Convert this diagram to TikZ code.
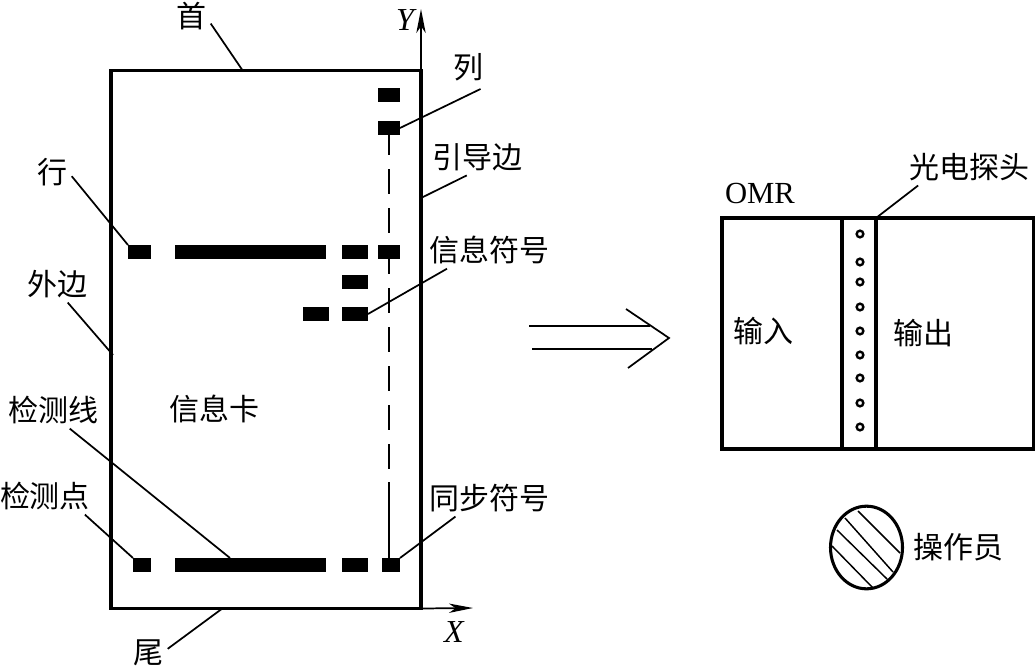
\documentclass[tikz,border=0pt]{standalone}
\usepackage{fontspec}
\setmainfont{Liberation Serif}
\newfontfamily\cjk{Noto Sans CJK SC}
\usepackage{xcolor}
\usetikzlibrary{arrows.meta, positioning, shapes.geometric}

\tikzset{
  cjklabel/.style={font=\cjk\fontsize{22.5}{24}\selectfont},
  blk/.style={fill=black,inner sep=0pt,outer sep=0pt,minimum height=10.5pt},
  leader/.style={line width=1.3pt},
  heavy/.style={draw,line width=2.3pt,inner sep=0pt,outer sep=0pt},
  probe/.style={draw,circle,line width=1.8pt,inner sep=0pt,minimum size=5pt},
  axis/.style={-{Stealth[length=18pt,width=7pt,inset=5pt]},line width=1.3pt},
}

\begin{document}
\begin{tikzpicture}[x=0.75pt,y=-0.75pt,>=Stealth]
  \useasboundingbox (0,0) rectangle (1035,667);
  % card
  \node[heavy,minimum width=232.5pt,minimum height=403.5pt] (card) at (266,339.5) {};
  \coordinate (ytip) at (421,9);
  \coordinate (xtip) at (473,608);
  \draw[axis] (card.north east) -- (ytip);
  \draw[axis] (card.south east) -- (xtip);
  \node[font=\itshape\fontsize{24}{24}\selectfont] (ylabel) at (405,20) {Y};
  \node[font=\itshape\fontsize{24}{24}\selectfont] (xlabel) at (454,632) {X};

  % column marks
  \node[blk,minimum width=16.5pt] (c1) at (389,95) {};
  \node[blk,minimum width=16.5pt,below=14.25pt of c1] (c2) {};
  % top row
  \node[blk,minimum width=17.25pt] (r1) at (139.5,252) {};
  \node[blk,minimum width=113.25pt,right=18pt of r1] (r2) {};
  \node[blk,minimum width=19.5pt,right=12pt of r2] (r3) {};
  \node[blk,minimum width=16.5pt,right=7.5pt of r3] (r4) {};
  \node[blk,minimum width=19.5pt,below=12pt of r3] (s1) {};
  \node[blk,minimum width=19.5pt,below=13.5pt of s1] (s2) {};
  \node[blk,minimum width=19.5pt,left=9.75pt of s2] (s3) {};
  % bottom row
  \node[blk,minimum width=13.5pt] (b1) at (142,565) {};
  \node[blk,minimum width=113.25pt] (b2) at (250.5,565) {};
  \node[blk,minimum width=19.5pt,right=12pt of b2] (b3) {};
  \node[blk,minimum width=13.5pt] (b4) at (391,565) {};
  \coordinate (dashend) at (389,482);
  \draw[line width=1.5pt,dash pattern=on 18.75pt off 10.5pt,dash phase=3.75pt] (c2.south) -- (r4.north);
  \draw[line width=1.5pt,dash pattern=on 18.75pt off 10.5pt,dash phase=7.5pt] (r4.south) -- (dashend);
  \draw[line width=1.5pt] (dashend) -- (dashend |- b4.north);

  % labels on the left
  \node[cjklabel] (shou) at (191,16) {首};
  \node[cjklabel] (lie) at (468,67) {列};
  \node[cjklabel] (yindao) at (477,157) {引导边};
  \node[cjklabel] (hang) at (52,172) {行};
  \node[cjklabel] (xinxi) at (489,250) {信息符号};
  \node[cjklabel] (waibian) at (57,284) {外边};
  \node[cjklabel] (jcx) at (53,410) {检测线};
  \node[cjklabel] (card text) at (214,409) {信息卡};
  \node[cjklabel] (jcd) at (45,496) {检测点};
  \node[cjklabel] (tongbu) at (489,498) {同步符号};
  \node[cjklabel] (wei) at (148,653) {尾};

  \coordinate (topfoot) at (243,71);
  \coordinate (edgefoot) at (421,198);
  \coordinate (outerfoot) at (113,355);
  \coordinate (linefoot) at (230,558);
  \coordinate (tailfoot) at (223,608);
  \draw[leader] (shou.-21) -- (topfoot);
  \draw[leader,shorten <=6pt] (lie.south east) -- (c2.east);
  \draw[leader] (yindao.-119) -- (edgefoot);
  \draw[leader] (hang.-12) -- (r1.north west);
  \draw[leader] (xinxi.-156) -- (s2.east);
  \draw[leader] (waibian.-60) -- (outerfoot);
  \draw[leader] (jcx.-48) -- (linefoot);
  \draw[leader] (jcd.-25) -- (b1.north west);
  \draw[leader] (tongbu.-151) -- (b4.north east);
  \draw[leader] (wei.12) -- (tailfoot);

  % double arrow
  \coordinate (dbltip) at (669,338);
  \draw[line width=1.3pt] (529,326) -- (650,326);
  \draw[line width=1.3pt] (532,349) -- (652,349);
  \draw[line width=1.3pt] (626,309) -- (dbltip) -- (628,368);

  % reader
  \node[heavy,minimum width=234pt,minimum height=173.25pt] (omr) at (878,333.5) {};
  \node[heavy,minimum width=25.5pt,minimum height=173.25pt] (head) at (859,333.5) {};
  \node[font=\fontsize{23}{23}\selectfont] (omrlabel) at (760,193) {OMR};
  \node[cjklabel] (guang) at (969,167) {光电探头};
  \node[cjklabel] (shuru) at (763,331) {输入};
  \node[cjklabel] (shuchu) at (923,333) {输出};
  \draw[leader] (guang.-160) -- (head.north east);
  \foreach \y [count=\i] in {234,262,282,307,331,355,378,403,427}
    \node[probe] (p\i) at (860,\y) {};

  % operator
  \node[draw,ellipse,line width=2.3pt,minimum width=54pt,minimum height=62pt,inner sep=0pt] (oper) at (866.5,547.5) {};
  \draw[line width=1.1pt] (858,511) -- (900,553);
  \draw[line width=1.1pt] (845,518) -- (893,572);
  \draw[line width=1.1pt] (837,530) -- (887,579);
  \draw[line width=1.1pt] (832,546) -- (873,588);
  \node[cjklabel] (caozuo) at (958,547) {操作员};
\end{tikzpicture}
\end{document}
